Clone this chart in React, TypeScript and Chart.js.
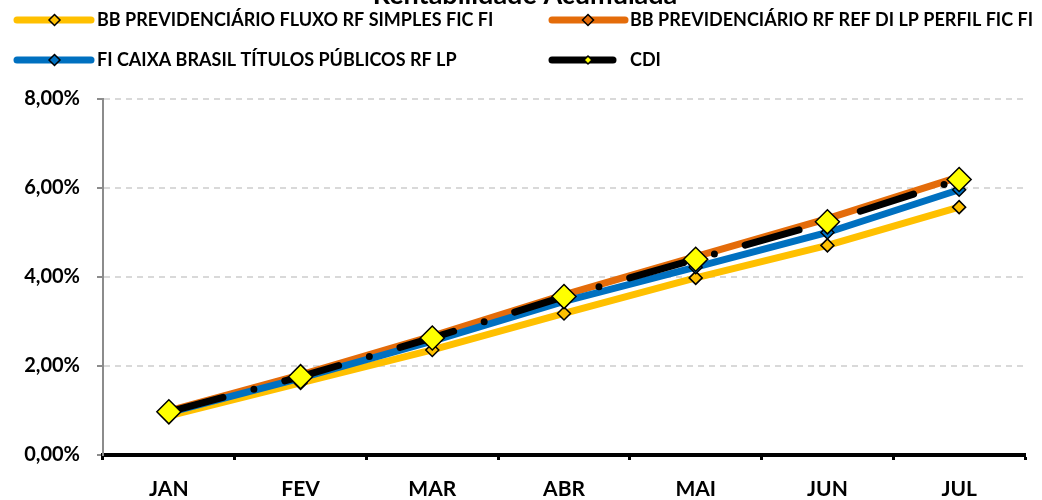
import React, { useEffect, useRef } from "react";
import { Chart, registerables } from "chart.js";

Chart.register(...registerables);

const months = ["JAN", "FEV", "MAR", "ABR", "MAI", "JUN", "JUL"];
const fluxo = [0.88, 1.62, 2.36, 3.18, 3.98, 4.71, 5.57];
const perfil = [0.99, 1.8, 2.67, 3.6, 4.46, 5.31, 6.25];
const caixa = [0.95, 1.73, 2.56, 3.45, 4.22, 5.0, 5.96];
const cdi = [0.97, 1.76, 2.63, 3.56, 4.4, 5.24, 6.19];
const seriesNames = [
  "BB PREVIDENCIÁRIO FLUXO RF SIMPLES FIC FI",
  "BB PREVIDENCIÁRIO RF REF DI LP PERFIL FIC FI",
  "FI CAIXA BRASIL TÍTULOS PÚBLICOS RF LP",
  "CDI",
];
const titleText = "Rentabilidade Acumulada";
const yTicks = [0, 2, 4, 6, 8];

const FONT = "Lato";
const YELLOW = "#FFC000";
const ORANGE = "#E46C0A";
const BLUE = "#0070C0";
const BLACK = "#000000";
const CDI_FILL = "#FFFF00";

function diamond(ctx: CanvasRenderingContext2D, x: number, y: number, r: number, fill: string) {
  ctx.beginPath();
  ctx.moveTo(x, y - r);
  ctx.lineTo(x + r, y);
  ctx.lineTo(x, y + r);
  ctx.lineTo(x - r, y);
  ctx.closePath();
  ctx.fillStyle = fill;
  ctx.fill();
  ctx.lineWidth = 1.5;
  ctx.strokeStyle = "#000";
  ctx.stroke();
}

const overlayPlugin = {
  id: "overlay",
  afterDraw(chart: any) {
    const ctx: CanvasRenderingContext2D = chart.ctx;
    ctx.save();
    // title (mostly above the visible area)
    ctx.font = `bold 27px ${FONT}`;
    ctx.fillStyle = "#000";
    ctx.textAlign = "center";
    ctx.textBaseline = "alphabetic";
    ctx.fillText(titleText, 525, 4);

    const items = [
      { x1: 17, x2: 91, dx: 54.5, tx: 97, y: 20, color: YELLOW, fill: YELLOW, r: 5.5, name: seriesNames[0] },
      { x1: 552, x2: 625, dx: 588, tx: 630, y: 20, color: ORANGE, fill: ORANGE, r: 5.5, name: seriesNames[1] },
      { x1: 17, x2: 91, dx: 54.5, tx: 97, y: 60, color: BLUE, fill: BLUE, r: 5.5, name: seriesNames[2] },
      { x1: 552, x2: 613, dx: 588, tx: 630, y: 60, color: BLACK, fill: CDI_FILL, r: 4, name: seriesNames[3] },
    ];
    for (const it of items) {
      ctx.beginPath();
      ctx.moveTo(it.x1, it.y);
      ctx.lineTo(it.x2, it.y);
      ctx.lineWidth = 7;
      ctx.lineCap = "round";
      ctx.strokeStyle = it.color;
      ctx.stroke();
      diamond(ctx, it.dx, it.y, it.r, it.fill);
      ctx.font = `bold 18px ${FONT}`;
      ctx.fillStyle = "#000";
      ctx.textAlign = "left";
      ctx.textBaseline = "middle";
      ctx.fillText(it.name, it.tx, it.y);
    }
    ctx.restore();
  },
};

export default function App() {
  const ref = useRef<HTMLCanvasElement | null>(null);
  useEffect(() => {
    if (!ref.current) return;
    const mk = (label: string, data: number[], color: string, fill: string, r: number, order: number, extra: any = {}) => ({
      label,
      data,
      borderColor: color,
      backgroundColor: fill,
      borderWidth: 7,
      pointStyle: "rectRot",
      pointRadius: r,
      pointHoverRadius: r,
      pointBackgroundColor: fill,
      pointBorderColor: "#000",
      pointBorderWidth: 1.5,
      tension: 0,
      fill: false,
      order,
      ...extra,
    });
    const chart = new Chart(ref.current, {
      type: "line",
      data: {
        labels: months,
        datasets: [
          mk(seriesNames[0], fluxo, YELLOW, YELLOW, 6.5, 3),
          mk(seriesNames[1], perfil, ORANGE, ORANGE, 6.5, 2),
          mk(seriesNames[2], caixa, BLUE, BLUE, 6.5, 1),
          mk(seriesNames[3], cdi, BLACK, CDI_FILL, 12, 0, {
            borderDash: [56, 32, 0, 32],
            borderCapStyle: "round",
          }),
        ],
      },
      options: {
        responsive: false,
        animation: false,
        events: [],
        layout: { padding: { left: 0, top: 99, right: 17, bottom: 0 } },
        plugins: {
          legend: { display: false },
          title: { display: false },
          tooltip: { enabled: false },
        },
        scales: {
          x: {
            type: "category",
            offset: true,
            afterFit: (s: any) => {
              s.height = 45;
            },
            grid: {
              offset: true,
              drawOnChartArea: false,
              drawTicks: true,
              tickLength: 5,
              tickWidth: 3,
              tickColor: "#000",
            },
            border: { display: true, color: "#000", width: 4 },
            ticks: {
              color: "#000",
              font: { family: FONT, size: 21, weight: "bold" },
              padding: 17,
              maxRotation: 0,
              autoSkip: false,
            },
          },
          y: {
            min: 0,
            max: 8,
            afterFit: (s: any) => {
              s.width = 103;
            },
            afterBuildTicks: (s: any) => {
              s.ticks = yTicks.map((v) => ({ value: v }));
            },
            grid: {
              color: (c: any) => (c.tick && c.tick.value === 0 ? "rgba(0,0,0,0)" : "#d9d9d9"),
              lineWidth: 2,
              drawTicks: true,
              tickLength: 6,
              tickWidth: 2,
              tickColor: "#8c8c8c",
            },
            border: { display: true, color: "#8c8c8c", width: 2, dash: [6, 5] },
            ticks: {
              color: "#000",
              font: { family: FONT, size: 20, weight: "bold" },
              padding: 17,
              callback: (v: any) => Number(v).toFixed(2).replace(".", ",") + "%",
            },
          },
        },
      },
      plugins: [overlayPlugin],
    } as any);
    return () => chart.destroy();
  }, []);
  return (
    <div style={{ position: "fixed", left: 0, top: 0, width: 1042, height: 500, background: "#fff" }}>
      <canvas ref={ref} width={1042} height={500} style={{ display: "block" }} />
    </div>
  );
}
